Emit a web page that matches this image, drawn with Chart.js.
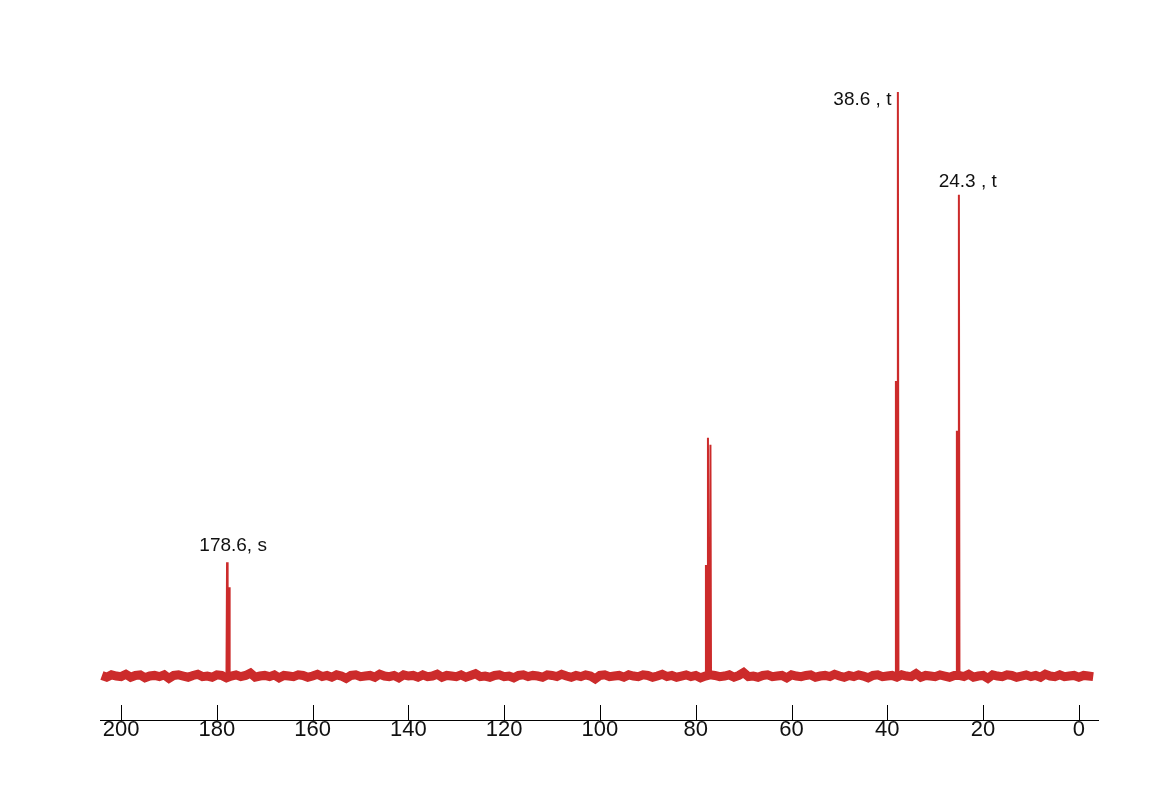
<!DOCTYPE html>
<html>
<head>
<meta charset="utf-8">
<title>13C NMR</title>
<script src="https://cdn.jsdelivr.net/npm/chart.js@4.4.0/dist/chart.umd.min.js"></script>
<style>
    body { margin: 0; background: #fff; }
    #espectro { display: block; }
</style>
</head>
<body>
<canvas id="espectro" width="1170" height="811"></canvas>
<script>
/* =========================================================
   DADOS DO ESPECTRO (ppm no eixo x, intensidade relativa no y)
========================================================= */
const tickValues = [200, 180, 160, 140, 120, 100, 80, 60, 40, 20, 0];

// linhas dos picos (posicao lida no eixo, altura relativa ao maior = 100)
const peakPpm    = [177.87, 177.45, 77.87, 77.45, 76.93, 38.20, 37.79, 25.47, 25.05];
const peakHeight = [19.5,   15.2,   19.0,  40.8,  39.6,  50.5,  100,   42.0,  82.4];
const peakGroup  = [0, 0, 1, 1, 1, 2, 2, 3, 3];

// rotulos dos picos
const labelText = ['178.6, s', '38.6 , t', '24.3 , t'];
const labelPpm  = [176.6, 45.2, 23.2];
const labelY    = [22.3, 98.6, 84.6];

// ruido da linha de base, uma amostra por ppm a partir de 204 ppm
const noiseStart = 204;
const noiseValues = [
    0.1,-0.2,0.2,0.0,-0.1,0.3,-0.2,0.1,0.2,-0.3,0.0,0.1,-0.1,0.2,-0.4,0.1,
    0.2,0.0,-0.2,0.1,0.3,-0.1,0.0,-0.2,0.2,0.1,-0.3,0.0,0.2,-0.1,0.1,0.5,
    -0.2,0.0,0.1,-0.1,0.2,-0.3,0.1,0.0,-0.1,0.2,0.1,-0.2,0.0,0.3,-0.1,0.1,
    -0.2,0.2,0.0,-0.4,0.1,0.2,-0.1,0.0,0.1,-0.2,0.3,0.0,-0.1,0.1,-0.3,0.2,
    0.0,0.1,-0.2,0.2,-0.1,0.0,0.3,-0.2,0.1,0.0,-0.1,0.2,-0.2,0.1,0.4,-0.1,
    0.0,-0.2,0.1,0.2,-0.1,0.0,-0.3,0.1,0.2,-0.1,0.1,0.0,-0.2,0.2,0.1,-0.1,
    0.3,0.0,-0.2,0.1,-0.1,0.2,0.0,-0.5,0.1,0.2,-0.1,0.0,0.1,-0.2,0.2,0.0,
    -0.1,0.2,0.1,-0.2,0.0,0.3,-0.1,0.1,-0.2,0.0,0.2,-0.1,0.1,-0.3,0.0,0.2,
    0.1,-0.1,0.0,0.2,-0.2,0.1,0.6,-0.1,0.0,-0.2,0.1,0.2,-0.1,0.0,0.1,-0.3,
    0.2,0.0,-0.1,0.1,0.2,-0.2,0.0,0.1,-0.1,0.3,0.0,-0.2,0.1,-0.1,0.2,0.0,
    -0.3,0.1,0.2,-0.1,0.0,0.1,-0.2,0.2,0.0,-0.1,0.4,-0.2,0.1,0.0,-0.1,0.2,
    0.0,-0.2,0.1,0.1,-0.1,0.3,-0.2,0.0,0.1,-0.4,0.2,0.0,-0.1,0.2,0.1,-0.2,
    0.0,0.2,-0.1,0.1,-0.2,0.3,0.0,-0.1,0.2,-0.1,0.0,0.1,-0.2,0.1,0.0,-0.1
];

const corEspectro = '#cc2b2b';

/* =========================================================
   MONTAGEM DOS PONTOS
========================================================= */
const pontosRuido = noiseValues.map((v, i) => ({ x: noiseStart - i, y: v }));

const pontosPicos = [];
peakPpm.forEach((ppm, i) => {
    if (i > 0 && peakGroup[i] !== peakGroup[i - 1]) pontosPicos.push({ x: ppm, y: null });
    pontosPicos.push({ x: ppm + 0.12, y: 0 });
    pontosPicos.push({ x: ppm, y: peakHeight[i] });
    pontosPicos.push({ x: ppm - 0.12, y: 0 });
});

/* =========================================================
   PLUGIN: tracos do eixo para dentro + rotulos dos picos
========================================================= */
const extrasEspectro = {
    id: 'extrasEspectro',
    afterDraw(chart) {
        const ctx = chart.ctx;
        const x = chart.scales.x;
        const y = chart.scales.y;
        const base = chart.chartArea.bottom;

        ctx.save();
        ctx.strokeStyle = '#000';
        ctx.lineWidth = 1;
        x.ticks.forEach(t => {
            const px = Math.round(x.getPixelForValue(t.value)) + 0.5;
            ctx.beginPath();
            ctx.moveTo(px, base);
            ctx.lineTo(px, base - 15);
            ctx.stroke();
        });

        ctx.fillStyle = '#111';
        ctx.font = '19px "Liberation Sans", Arial, sans-serif';
        ctx.textAlign = 'center';
        ctx.textBaseline = 'middle';
        labelText.forEach((txt, i) => {
            ctx.fillText(txt, x.getPixelForValue(labelPpm[i]), y.getPixelForValue(labelY[i]));
        });
        ctx.restore();
    }
};

new Chart(document.getElementById('espectro'), {
    type: 'line',
    data: {
        datasets: [
            {
                data: pontosPicos,
                borderColor: corEspectro,
                borderWidth: 2,
                pointRadius: 0,
                tension: 0,
                spanGaps: false
            },
            {
                data: pontosRuido,
                borderColor: corEspectro,
                borderWidth: 9,
                pointRadius: 0,
                tension: 0
            }
        ]
    },
    options: {
        responsive: false,
        animation: false,
        devicePixelRatio: 1,
        layout: { padding: { left: 100, right: 72, top: 40, bottom: 0 } },
        plugins: { legend: { display: false }, tooltip: { enabled: false } },
        scales: {
            x: {
                type: 'linear',
                reverse: true,
                min: -4,
                max: 204.4,
                afterBuildTicks: scale => { scale.ticks = tickValues.map(v => ({ value: v })); },
                afterFit: scale => { scale.height = 91; },
                border: { display: true, color: '#000', width: 1 },
                grid: { drawOnChartArea: false, drawTicks: false },
                ticks: {
                    autoSkip: false,
                    maxRotation: 0,
                    padding: -3,
                    color: '#111',
                    font: { family: '"Liberation Sans", Arial, sans-serif', size: 22 },
                    callback: v => String(v)
                }
            },
            y: {
                display: false,
                min: -7.53,
                max: 108.9
            }
        }
    },
    plugins: [extrasEspectro]
});
</script>
</body>
</html>
